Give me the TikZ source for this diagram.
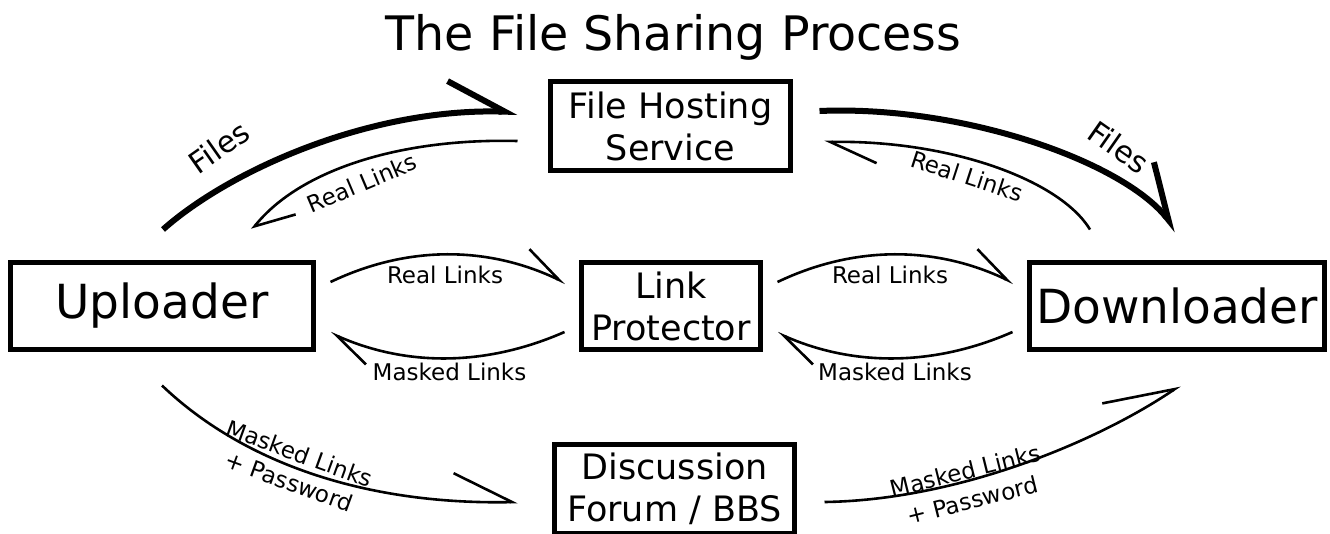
\documentclass[tikz,border=0pt]{standalone}
\usepackage{fontspec}
\setmainfont{DejaVu Sans}
\usetikzlibrary{arrows.meta}
\begin{document}
\begin{tikzpicture}[x=1pt,y=-1pt,
  box/.style={draw, line width=5pt, inner sep=0pt, align=center},
  bigtxt/.style={font=\fontsize{47}{56}\selectfont},
  midtxt/.style={font=\fontsize{35}{42}\selectfont},
  lbl/.style={font=\fontsize{23}{30}\selectfont, inner sep=0pt, align=center},
  flbl/.style={font=\fontsize{30}{36}\selectfont, inner sep=0pt},
  thickconn/.style={line width=6pt},
  thinconn/.style={line width=2.6pt},
  harp/.style 2 args={-{Straight Barb[left,length=#1,width=#2]}}
]
\useasboundingbox (0,0) rectangle (1330,533);
\clip (0,0) rectangle (1330,533);

% title
\node[font=\fontsize{47.5}{56}\selectfont, anchor=base] (title) at (673.5,50) {The File Sharing Process};

% boxes
\node[box, bigtxt, minimum width=303pt, minimum height=87pt] (up) at (162,306) {Uploader};
\node[box, midtxt, minimum width=179pt, minimum height=87pt] (lp) at (671,306) {Link\\Protector};
\node[box, bigtxt, minimum width=295pt, minimum height=87pt] (dl) at (1177,306) {Downloader};
\node[box, midtxt, minimum width=240pt, minimum height=89pt] (fh) at (670.5,126) {File Hosting\\Service};
\node[box, midtxt, minimum width=240pt, minimum height=89pt] (df) at (674.5,489) {Discussion\\Forum / BBS};

% connectors
\draw[thickconn, harp={58pt}{58pt}] ([shift={(1,-30.5)}]up.north) .. controls (230,170) and (370,108) .. ([shift={(-30.5,-14)}]fh.west);
\draw[thinconn, harp={35pt}{49pt}] ([shift={(-30.5,15)}]fh.west) .. controls (400,138) and (300,170) .. ([shift={(90,-30.5)}]up.north);
\draw[thickconn, harp={54pt}{50pt}] ([shift={(26.5,-15)}]fh.east) .. controls (960,105) and (1120,160) .. ([shift={(0,-29.5)}]dl.north);
\draw[thinconn, harp={46pt}{44pt}] ([shift={(-87,-30.5)}]dl.north) .. controls (1060,180) and (950,140) .. ([shift={(31.5,16)}]fh.east);
\draw[thinconn, harp={40pt}{30pt}] ([shift={(14.5,-24)}]up.east) .. controls (408,245) and (488,246) .. ([shift={(-13.5,-23)}]lp.west);
\draw[thinconn, harp={38pt}{29pt}] ([shift={(-14.5,26)}]lp.west) .. controls (487,366) and (408,367) .. ([shift={(14.5,27)}]up.east);
\draw[thinconn, harp={40pt}{30pt}] ([shift={(14.5,-24)}]lp.east) .. controls (855,245) and (936,246) .. ([shift={(-13.5,-23)}]dl.west);
\draw[thinconn, harp={38pt}{29pt}] ([shift={(-14.5,26)}]dl.west) .. controls (935,366) and (855,367) .. ([shift={(14.5,27)}]lp.east);
\draw[thinconn, harp={58pt}{60pt}] ([shift={(0,33.5)}]up.south) .. controls (240,460) and (360,505) .. ([shift={(-34.5,13)}]df.west);
\draw[thinconn, harp={68pt}{58pt}] ([shift={(27.5,13)}]df.east) .. controls (960,500) and (1100,440) .. ([shift={(3,33.5)}]dl.south);

% labels
\node[flbl, rotate=35] (lf1) at (219,147) {Files};
\node[lbl, rotate=23] (lr1) at (362,183) {Real Links};
\node[flbl, rotate=-35] (lf2) at (1119,147) {Files};
\node[lbl, rotate=-18] (lr2) at (967,176) {Real Links};
\node[lbl, anchor=base] (lr3) at (445,283) {Real Links};
\node[lbl, anchor=base] (lm3) at (449.5,380) {Masked Links};
\node[lbl, anchor=base] (lr4) at (890,283) {Real Links};
\node[lbl, anchor=base] (lm4) at (895,380) {Masked Links};
\node[lbl, rotate=-20] (lmp1) at (294.5,467.5) {Masked Links\\+ Password};
\node[lbl, rotate=14] (lmp2) at (969,485.5) {Masked Links\\+ Password};
\end{tikzpicture}
\end{document}
